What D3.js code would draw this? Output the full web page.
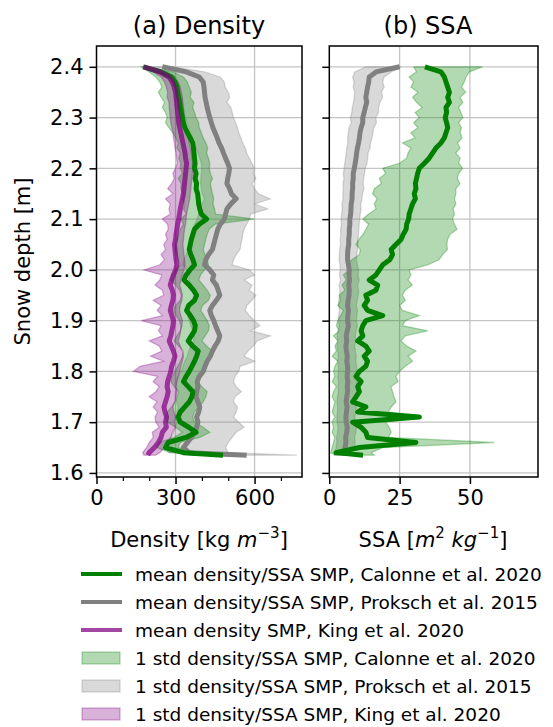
<!DOCTYPE html>
<html>
<head>
<meta charset="utf-8">
<script src="https://cdn.jsdelivr.net/npm/d3@7"></script>
<style>
body { margin: 0; background: #fff; }
text { font-family: "DejaVu Sans", sans-serif; fill: #000; }
</style>
</head>
<body>
<svg width="553" height="727"></svg>
<script>
// snow depth [m], top of snowpack first
var depth = [2.40,2.39,2.38,2.37,2.36,2.35,2.34,2.33,2.32,2.31,
    2.30,2.29,2.28,2.27,2.26,2.25,2.24,2.23,2.22,2.21,
    2.20,2.19,2.18,2.17,2.16,2.15,2.14,2.13,2.12,2.11,
    2.10,2.09,2.08,2.07,2.06,2.05,2.04,2.03,2.02,2.01,
    2.00,1.99,1.98,1.97,1.96,1.95,1.94,1.93,1.92,1.91,
    1.90,1.89,1.88,1.87,1.86,1.85,1.84,1.83,1.82,1.81,
    1.80,1.79,1.78,1.77,1.76,1.75,1.74,1.73,1.72,1.71,
    1.70,1.69,1.68,1.67,1.66,1.65,1.64,1.635];

// density, Calonne et al. 2020
var calDen = [177,245,285,298,305,308,312,316,318,322,
    326,330,336,345,356,365,368,370,372,374,
    372,378,374,380,378,384,386,388,392,398,
    418,390,372,366,360,356,352,358,366,372,
    355,340,332,352,368,380,372,350,342,356,
    368,375,372,360,348,365,386,380,372,362,
    352,340,330,348,366,362,352,335,318,310,
    318,350,378,340,272,262,330,480];
var calDenLo = [170,200,225,240,248,235,245,258,250,262,
    268,262,275,290,300,310,305,318,312,320,
    318,325,310,322,320,330,326,335,330,340,
    320,330,318,312,305,300,298,305,310,318,
    300,288,282,300,315,322,318,300,292,302,
    315,320,318,305,295,312,330,326,318,308,
    298,288,282,295,312,306,298,285,268,262,
    268,300,325,295,235,228,280,420];
var calDenHi = [185,290,330,345,352,360,355,370,365,372,
    378,388,390,398,405,415,422,418,425,430,
    428,432,440,432,436,440,445,442,448,452,
    600,450,428,420,415,410,405,412,420,425,
    410,395,388,405,420,432,425,402,396,408,
    420,428,425,412,400,418,440,435,426,415,
    406,395,384,400,420,415,405,390,372,365,
    372,405,430,392,318,310,390,540];

// density, Proksch et al. 2015
var prokDen = [250,340,390,405,408,410,412,416,420,425,
    430,436,442,450,458,465,475,482,490,498,
    505,502,498,495,505,512,530,510,495,490,
    485,470,460,455,450,445,440,425,415,410,
    430,445,440,455,462,468,455,440,430,436,
    445,452,460,468,462,450,440,432,420,412,
    405,390,382,385,380,378,385,392,388,380,
    385,380,372,360,345,330,350,570];
var prokDenLo = [210,270,300,310,312,315,318,322,328,332,
    338,342,350,356,362,370,378,385,392,398,
    400,398,396,395,398,402,410,400,392,388,
    382,372,365,360,356,352,350,340,332,328,
    342,352,350,360,368,372,362,350,342,346,
    352,358,365,372,368,358,350,345,335,328,
    322,310,302,305,300,298,304,310,306,300,
    304,300,292,282,270,258,275,480];
var prokDenHi = [290,410,470,485,488,500,505,495,510,515,
    520,528,535,540,548,555,565,570,580,590,
    600,595,605,590,600,615,660,600,650,585,
    580,570,560,555,552,548,545,530,520,515,
    580,600,560,590,580,605,590,570,565,580,
    600,620,585,660,610,595,575,560,600,545,
    540,525,520,530,550,525,520,535,530,520,
    540,560,530,515,500,490,500,760];

// density, King et al. 2020
var kingDen = [180,240,275,288,295,300,302,304,306,308,
    310,312,316,320,324,328,332,336,338,342,
    340,338,336,334,332,330,326,322,318,315,
    312,308,305,302,300,296,298,300,302,305,
    300,292,285,280,288,292,290,284,280,286,
    292,290,286,282,276,284,292,298,292,285,
    282,276,270,268,272,268,262,256,260,266,
    262,265,250,245,235,220,200,195];
var kingDenLo = [175,215,245,258,265,270,268,275,276,278,
    280,282,286,290,292,296,298,302,304,306,
    300,290,295,285,270,290,262,280,275,280,
    250,270,272,262,268,255,262,245,258,240,
    180,248,240,222,250,255,215,245,230,250,
    170,245,235,250,200,238,248,205,255,165,
    140,232,215,238,225,200,230,215,232,222,
    225,238,212,215,200,190,175,180];
var kingDenHi = [190,262,295,310,318,322,326,328,330,332,
    334,336,340,344,348,352,356,360,362,366,
    366,364,362,360,358,356,354,350,346,342,
    340,338,334,332,330,328,330,332,334,336,
    332,326,320,316,322,326,324,318,315,320,
    326,324,320,316,310,318,326,330,326,320,
    316,310,305,302,306,302,296,290,294,300,
    296,300,288,282,270,258,240,225];

// SSA, Calonne et al. 2020
var calSSA = [34,39.7,40.9,41.5,42.1,42.7,42.1,42.7,41.5,41.7,
    41.2,41.7,42.1,41.5,40.9,39.7,37.9,36.7,35.5,33.8,
    32.0,31.4,31.0,30.6,30.8,30.2,30.6,29.6,29.0,28.4,
    28.2,27.5,27.3,26.3,25.5,23.7,22.0,22.5,21.5,19.0,
    17.8,16.6,14.2,17.2,16.6,13.0,13.6,12.4,13.6,19.0,
    13.0,11.9,11.3,11.9,10.1,13.0,14.2,12.4,13.6,13.0,
    10.7,9.5,11.3,10.1,10.7,9.5,8.3,13.0,10.1,32.0,
    8.3,11.3,13.0,13.6,30.8,10.7,2.4,12.0];
var calSSALo = [30,31,28.4,30,29,31.5,29.6,31,33,30.5,
    32,30,31.5,29,30.5,26,29,28,27.5,24.9,
    19.0,20,17.8,18.5,16,15.4,17,16,16.6,14,
    11.9,14,13,12,10.5,9.5,11,10.7,8,6.5,
    7,5,6,4.5,5.5,3.5,4,3,5,4,
    3,2.5,3.5,1.5,3,2,2.5,1,3,2,
    1.5,2,1,2.5,1.5,1,2,1.5,1,2,
    1,1.5,1,2,1.5,1,0.5,2];
var calSSAHi = [54.5,49.8,48.6,48,47,48.5,46.5,47.5,46,46.8,
    47.5,46,47,46.5,47.2,45.6,46.5,45,46.5,46,
    47.4,46,45.5,46.5,45,45,44.5,45,44,44.5,
    43.8,44.5,45.4,43,42,41.8,42,40.3,39,35,
    28.4,29,28,29.5,27,26,27,25,26,32,
    27,26,35,27,25.5,27.5,30.8,28,29.6,27,
    25,23.7,24.5,21.9,22.5,23,23.7,22,21,33,
    20,21.3,22,21,58.7,19,15,16];

// SSA, Proksch et al. 2015
var prokSSA = [25,16.6,14.2,14.0,13.6,13.3,13.0,13.3,12.8,12.4,
    11.9,11.9,11.3,10.9,10.7,10.4,10.0,9.7,9.5,9.2,
    8.9,8.5,8.5,8.3,8.3,8.1,8.1,7.8,7.7,7.6,
    7.3,7.3,7.1,7.1,6.9,6.9,6.6,6.5,6.5,6.8,
    7.1,7.0,7.2,6.9,7.1,7.0,6.7,6.5,6.8,6.6,
    6.5,6.8,6.4,6.0,6.2,5.9,6.1,6.4,6.2,6.5,
    6.5,6.3,6.6,6.4,6.5,6.2,6.0,6.3,6.1,5.9,
    6.0,6.4,6.2,5.8,5.9,5.6,5.0,4.7];
var prokSSALo = [13,9,8.3,8.8,8.5,9,8.9,8.6,8.2,8,
    7.5,7.8,7,6.8,6.5,6.6,6.2,6,5.8,5.5,
    5.3,5,5.2,4.9,5,4.8,4.9,4.5,4.6,4.4,
    4.2,4.3,4,4.1,3.9,4,3.7,3.6,3.5,3.8,
    3.9,3.6,4,3.5,3.8,3.7,3.4,3.3,3.6,3.3,
    3.2,3.6,3.1,2.8,3,2.7,3,3.2,3,3.3,
    3.2,3,3.3,3.1,3.2,2.9,2.8,3,2.9,2.7,
    2.8,3.1,3,2.6,2.7,2.4,2,1.8];
var prokSSAHi = [25.5,22,19.5,19,19.5,18.5,19,18,17.5,17.5,
    16.5,16.8,15.8,15.5,15.2,14.6,14.5,13.8,13.6,13.4,
    12.8,12.5,12.2,12,12.3,11.8,11.6,11.2,11.3,11,
    10.8,10.6,10.5,10.4,10.2,10.2,10,9.8,9.6,10,
    10.4,10.2,10.6,10.1,10.4,10.3,9.9,9.6,10,9.8,
    9.6,10,9.5,9.2,9.4,9,9.3,9.6,9.4,9.7,
    9.8,9.5,9.9,9.6,9.8,9.4,9.2,9.6,9.4,9.1,
    9.2,9.7,9.4,9,9.2,8.8,8,7.6];

var depthTicks = [1.6,1.7,1.8,1.9,2.0,2.1,2.2,2.3,2.4];
var denTicks = [0,300,600];
var denMinor = [100,200,400,500,700];
var ssaTicks = [0,25,50];

var legendLabels = [
    'mean density/SSA SMP, Calonne et al. 2020',
    'mean density/SSA SMP, Proksch et al. 2015',
    'mean density SMP, King et al. 2020',
    '1 std density/SSA SMP, Calonne et al. 2020',
    '1 std density/SSA SMP, Proksch et al. 2015',
    '1 std density/SSA SMP, King et al. 2020'
];

var svg = d3.select('svg');
var plotTop = 46, plotBottom = 477;

var scaleY = d3.scaleLinear().domain([1.592, 2.441]).range([plotBottom, plotTop]);
var scaleDen = d3.scaleLinear().domain([0, 780]).range([96.5, 302]);
var scaleSSA = d3.scaleLinear().domain([0, 74.2]).range([329.3, 538]);

var idx = d3.range(depth.length);

function drawPanel(name, scaleX, xTicks, minorTicks, bands, lines, showY) {
    var x0 = scaleX.range()[0], x1 = scaleX.range()[1];
    var g = svg.append('g');

    g.append('clipPath').attr('id', 'clip-' + name)
        .append('rect').attr('x', x0).attr('y', plotTop)
        .attr('width', x1 - x0).attr('height', plotBottom - plotTop);

    // grid
    g.selectAll('.gx').data(xTicks.slice(1)).enter().append('line')
        .attr('x1', function(d){ return scaleX(d); })
        .attr('x2', function(d){ return scaleX(d); })
        .attr('y1', plotTop).attr('y2', plotBottom)
        .attr('stroke', '#c4c4c4').attr('stroke-width', 1.3);
    g.selectAll('.gy').data(depthTicks).enter().append('line')
        .attr('x1', x0).attr('x2', x1)
        .attr('y1', function(d){ return scaleY(d); })
        .attr('y2', function(d){ return scaleY(d); })
        .attr('stroke', '#c4c4c4').attr('stroke-width', 1.3);

    var data = g.append('g').attr('clip-path', 'url(#clip-' + name + ')');

    bands.forEach(function(b) {
        var area = d3.area()
            .y(function(i){ return scaleY(depth[i]); })
            .x0(function(i){ return scaleX(b.lo[i]); })
            .x1(function(i){ return scaleX(b.hi[i]); });
        data.append('path').attr('d', area(idx))
            .attr('fill', b.color).attr('fill-opacity', 0.3)
            .attr('stroke', b.color).attr('stroke-opacity', 0.3)
            .attr('stroke-width', 1.3);
    });

    lines.forEach(function(l) {
        var line = d3.line()
            .y(function(i){ return scaleY(depth[i]); })
            .x(function(i){ return scaleX(l.values[i]); });
        data.append('path').attr('d', line(idx))
            .attr('fill', 'none').attr('stroke', l.color)
            .attr('stroke-opacity', l.opacity)
            .attr('stroke-width', 5).attr('stroke-linejoin', 'round');
    });

    // frame
    g.append('rect').attr('x', x0).attr('y', plotTop)
        .attr('width', x1 - x0).attr('height', plotBottom - plotTop)
        .attr('fill', 'none').attr('stroke', '#000').attr('stroke-width', 1.5);

    var ax = g.append('g').attr('transform', 'translate(0,' + plotBottom + ')')
        .call(d3.axisBottom(scaleX).tickValues(xTicks).tickSize(7).tickPadding(6));
    ax.select('.domain').remove();
    ax.selectAll('line').attr('stroke-width', 1.5);
    ax.selectAll('text').style('font-size', '21px').style('font-family', 'DejaVu Sans');

    if (minorTicks) {
        var mx = g.append('g').attr('transform', 'translate(0,' + plotBottom + ')')
            .call(d3.axisBottom(scaleX).tickValues(minorTicks).tickSize(4).tickFormat(''));
        mx.select('.domain').remove();
        mx.selectAll('line').attr('stroke-width', 1.2);
    }

    var ay = g.append('g').attr('transform', 'translate(' + x0 + ',0)')
        .call(d3.axisLeft(scaleY).tickValues(depthTicks).tickSize(7).tickPadding(6)
            .tickFormat(showY ? d3.format('.1f') : ''));
    ay.select('.domain').remove();
    ay.selectAll('line').attr('stroke-width', 1.5);
    ay.selectAll('text').style('font-size', '21px').style('font-family', 'DejaVu Sans');

    return g;
}

var gA = drawPanel('den', scaleDen, denTicks, denMinor, [
    { lo: prokDenLo, hi: prokDenHi, color: '#808080' },
    { lo: calDenLo, hi: calDenHi, color: '#008000' },
    { lo: kingDenLo, hi: kingDenHi, color: '#800080' }
], [
    { values: prokDen, color: '#808080', opacity: 1 },
    { values: calDen, color: '#008000', opacity: 1 },
    { values: kingDen, color: '#800080', opacity: 0.72 }
], true);

var gB = drawPanel('ssa', scaleSSA, ssaTicks, null, [
    { lo: prokSSALo, hi: prokSSAHi, color: '#808080' },
    { lo: calSSALo, hi: calSSAHi, color: '#008000' }
], [
    { values: prokSSA, color: '#808080', opacity: 1 },
    { values: calSSA, color: '#008000', opacity: 1 }
], false);

// titles
svg.append('text').attr('x', 199).attr('y', 34).attr('text-anchor', 'middle')
    .style('font-size', '24px').text('(a) Density');
svg.append('text').attr('x', 428).attr('y', 34).attr('text-anchor', 'middle')
    .style('font-size', '24px').text('(b) SSA');

// axis labels
svg.append('text').attr('transform', 'translate(30,' + ((plotTop + plotBottom) / 2) + ') rotate(-90)')
    .attr('text-anchor', 'middle').style('font-size', '21px').text('Snow depth [m]');

var lblA = svg.append('text').attr('x', 199).attr('y', 547).attr('text-anchor', 'middle')
    .style('font-size', '21px');
lblA.append('tspan').text('Density [kg ');
lblA.append('tspan').style('font-style', 'italic').text('m');
lblA.append('tspan').attr('dy', -9).style('font-size', '15px').text('\u22123');
lblA.append('tspan').attr('dy', 9).text(']');

var lblB = svg.append('text').attr('x', 433).attr('y', 547).attr('text-anchor', 'middle')
    .style('font-size', '21px');
lblB.append('tspan').text('SSA [');
lblB.append('tspan').style('font-style', 'italic').text('m');
lblB.append('tspan').attr('dy', -9).style('font-size', '15px').text('2');
lblB.append('tspan').attr('dy', 9).style('font-style', 'italic').text(' kg');
lblB.append('tspan').attr('dy', -9).style('font-size', '15px').text('\u22121');
lblB.append('tspan').attr('dy', 9).text(']');

// legend
var legColors = ['#008000', '#808080', '#800080', '#008000', '#808080', '#800080'];
var leg = svg.append('g');
legendLabels.forEach(function(label, i) {
    var y = 574 + i * 28;
    if (i < 3) {
        leg.append('line').attr('x1', 81).attr('x2', 122).attr('y1', y).attr('y2', y)
            .attr('stroke', legColors[i]).attr('stroke-width', 4)
            .attr('stroke-opacity', i == 2 ? 0.72 : 1);
    } else {
        leg.append('rect').attr('x', 82).attr('y', y - 6).attr('width', 38).attr('height', 12)
            .attr('fill', legColors[i]).attr('fill-opacity', 0.3)
            .attr('stroke', legColors[i]).attr('stroke-opacity', 0.3).attr('stroke-width', 1.3);
    }
    leg.append('text').attr('x', 135).attr('y', y + 6.5)
        .style('font-size', '18.5px').text(label);
});
</script>
</body>
</html>
